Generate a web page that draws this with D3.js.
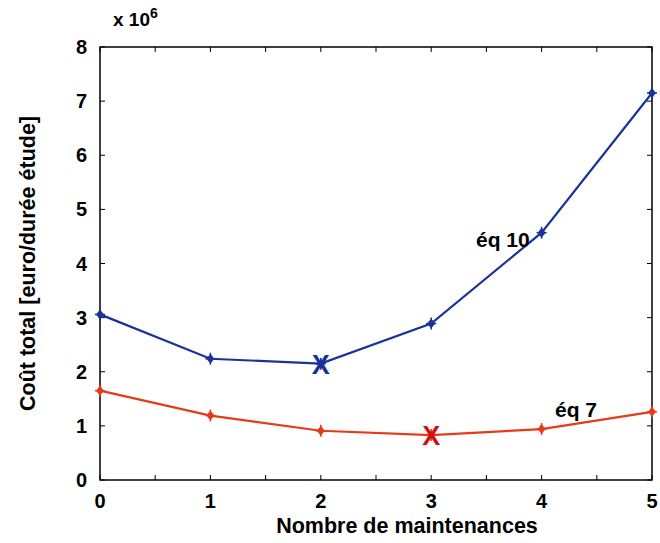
<!DOCTYPE html>
<html>
<head>
<meta charset="utf-8">
<script src="https://cdn.jsdelivr.net/npm/d3@7"></script>
<style>
  body { margin: 0; background: #fff; }
  text { font-family: "Liberation Sans", Arial, sans-serif; font-weight: bold; }
</style>
</head>
<body>
<div id="chart"></div>
<script>
// data (values in millions)
const maintenances = [0, 1, 2, 3, 4, 5];
const eq10 = [3.06, 2.24, 2.15, 2.89, 4.57, 7.15];
const eq7 = [1.65, 1.19, 0.91, 0.83, 0.94, 1.26];
const minima = [{ x: 2, y: 2.15, color: "#1a2f9a" }, { x: 3, y: 0.83, color: "#d40f0f" }];
const xTicks = [0, 1, 2, 3, 4, 5];
const yTicks = [0, 1, 2, 3, 4, 5, 6, 7, 8];

const W = 660, H = 543;
const margin = { left: 100, right: 8, top: 47, bottom: 63 };

const svg = d3.select("#chart").append("svg").attr("width", W).attr("height", H);

const x = d3.scaleLinear().domain([0, 5]).range([margin.left, W - margin.right]);
const y = d3.scaleLinear().domain([0, 8]).range([H - margin.bottom, margin.top]);

// inner ticks on all four sides
const minorX = d3.range(0, 5.01, 0.5);
const tickLen = 5;
const ticks = svg.append("g").attr("stroke", "#000").attr("stroke-width", 1);
minorX.forEach(v => {
    ticks.append("line").attr("x1", x(v)).attr("x2", x(v)).attr("y1", y(0)).attr("y2", y(0) - tickLen);
    ticks.append("line").attr("x1", x(v)).attr("x2", x(v)).attr("y1", y(8)).attr("y2", y(8) + tickLen);
});
yTicks.forEach(v => {
    ticks.append("line").attr("x1", x(0)).attr("x2", x(0) + tickLen).attr("y1", y(v)).attr("y2", y(v));
    ticks.append("line").attr("x1", x(5)).attr("x2", x(5) - tickLen).attr("y1", y(v)).attr("y2", y(v));
});

svg.append("rect")
    .attr("x", x(0)).attr("y", y(8))
    .attr("width", x(5) - x(0)).attr("height", y(0) - y(8))
    .attr("fill", "none").attr("stroke", "#000").attr("stroke-width", 1.5);

// tick labels
svg.append("g").selectAll("text").data(xTicks).join("text")
    .attr("x", d => x(d)).attr("y", y(0) + 28)
    .attr("text-anchor", "middle").attr("font-size", 20)
    .text(d => d);

svg.append("g").selectAll("text").data(yTicks).join("text")
    .attr("x", x(0) - 13).attr("y", d => y(d) + 7)
    .attr("text-anchor", "end").attr("font-size", 20)
    .text(d => d);

// exponent
const expo = svg.append("text").attr("x", 113).attr("y", 26).attr("font-size", 19);
expo.append("tspan").text("x 10");
expo.append("tspan").attr("dy", -8).attr("font-size", 14).text("6");

// axis titles
svg.append("text")
    .attr("x", 407).attr("y", 533)
    .attr("text-anchor", "middle").attr("font-size", 21.5)
    .text("Nombre de maintenances");

svg.append("text")
    .attr("transform", `translate(35,${(y(0) + y(8)) / 2}) rotate(-90)`)
    .attr("text-anchor", "middle").attr("font-size", 21.5)
    .text("Coût total [euro/durée étude]");

const line = d3.line().x((d, i) => x(maintenances[i])).y(d => y(d));

function drawSeries(values, color) {
    svg.append("path").datum(values)
        .attr("d", line)
        .attr("fill", "none").attr("stroke", color).attr("stroke-width", 2.2);
    const g = svg.append("g");
    values.forEach((v, i) => {
        const cx = x(maintenances[i]), cy = y(v);
        g.append("path")
            .attr("d", `M${cx},${cy - 5}L${cx + 4},${cy}L${cx},${cy + 5}L${cx - 4},${cy}Z`)
            .attr("fill", color);
        g.append("path")
            .attr("d", `M${cx - 5},${cy}H${cx + 5}M${cx},${cy - 6}V${cy + 6}`)
            .attr("stroke", color).attr("stroke-width", 1.5);
    });
}

drawSeries(eq10, "#1a3399");
drawSeries(eq7, "#e8391a");

// minimum markers
minima.forEach(m => {
    svg.append("text")
        .attr("x", x(m.x)).attr("y", y(m.y) + 10)
        .attr("text-anchor", "middle").attr("font-size", 27)
        .attr("fill", m.color)
        .text("X");
});

// series labels
svg.append("text").attr("x", 476).attr("y", 247).attr("font-size", 21).text("éq 10");
svg.append("text").attr("x", 555).attr("y", 417).attr("font-size", 21).text("éq 7");
</script>
</body>
</html>
